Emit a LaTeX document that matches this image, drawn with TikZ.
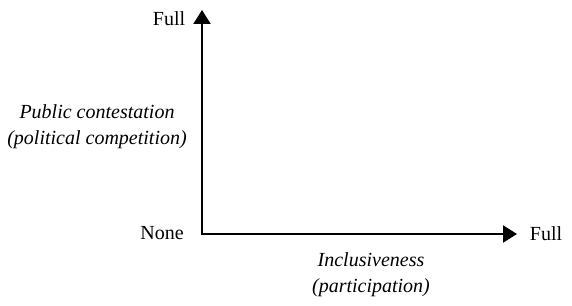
\documentclass[tikz,border=0pt]{standalone}
\usepackage{fontspec}
\setmainfont{Liberation Serif}
\usetikzlibrary{arrows.meta}
\begin{document}
\begin{tikzpicture}[x=1pt,y=-1pt,
  lab/.style={inner sep=0pt, font=\fontsize{20}{26}\selectfont},
  ilab/.style={lab, font=\fontsize{20}{26}\selectfont\itshape, align=center},
  axis/.style={line width=2pt, line join=miter, {Triangle[length=14pt,width=17pt]}-{Triangle[length=14pt,width=17pt]}}]
\useasboundingbox (0,0) rectangle (572,305);
\coordinate (O) at (202,234);
\coordinate (Y) at (202,10);
\coordinate (X) at (517,234);
\draw[axis] (Y) -- (O) -- (X);
\node[lab, anchor=base] (ftop) at (169,26) {Full};
\node[lab, anchor=base] (none) at (162,239) {None};
\node[lab, anchor=base] (fright) at (546,240) {Full};
\node[ilab] (ycap) at (97,127) {Public contestation\\(political competition)};
\node[ilab] (xcap) at (371,275) {Inclusiveness\\(participation)};
\end{tikzpicture}
\end{document}
